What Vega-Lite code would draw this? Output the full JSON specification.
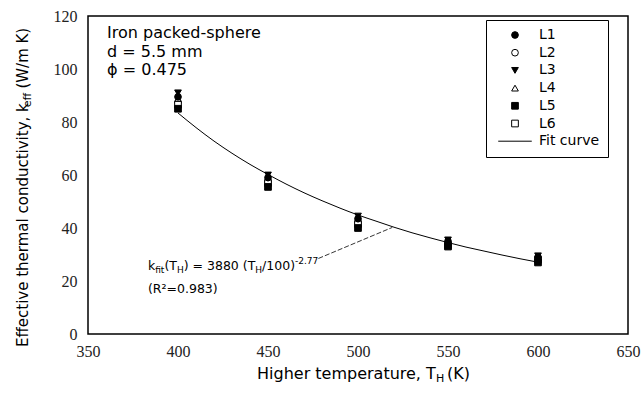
{
  "$schema": "https://vega.github.io/schema/vega-lite/v6.json",
  "width": 540,
  "height": 318,
  "autosize": {"type": "none"},
  "padding": {"left": 88, "top": 16, "right": 15, "bottom": 60},
  "config": {
    "font": "DejaVu Sans",
    "view": {"stroke": "black", "strokeWidth": 1.5},
    "axis": {
      "title": null,
      "domain": false,
      "ticks": false,
      "grid": true,
      "gridColor": "black",
      "gridOpacity": 1,
      "gridWidth": 1.5,
      "labelFont": "Liberation Serif",
      "labelFontSize": 16,
      "labelColor": "#222",
      "labelOverlap": false,
      "labelFlush": false
    }
  },
  "datasets": {
    "meas": [
      {"T": 400, "k": 87.5, "series": "L2"},
      {"T": 400, "k": 88.5, "series": "L4"},
      {"T": 400, "k": 86.5, "series": "L6"},
      {"T": 400, "k": 85, "series": "L5"},
      {"T": 400, "k": 89.5, "series": "L1"},
      {"T": 400, "k": 91, "series": "L3"},
      {"T": 450, "k": 57.5, "series": "L2"},
      {"T": 450, "k": 58.5, "series": "L4"},
      {"T": 450, "k": 57, "series": "L6"},
      {"T": 450, "k": 55.5, "series": "L5"},
      {"T": 450, "k": 59, "series": "L1"},
      {"T": 450, "k": 60, "series": "L3"},
      {"T": 500, "k": 42, "series": "L2"},
      {"T": 500, "k": 43, "series": "L4"},
      {"T": 500, "k": 41.5, "series": "L6"},
      {"T": 500, "k": 40, "series": "L5"},
      {"T": 500, "k": 43.5, "series": "L1"},
      {"T": 500, "k": 44.5, "series": "L3"},
      {"T": 550, "k": 34, "series": "L2"},
      {"T": 550, "k": 34.5, "series": "L4"},
      {"T": 550, "k": 33.5, "series": "L6"},
      {"T": 550, "k": 33, "series": "L5"},
      {"T": 550, "k": 35, "series": "L1"},
      {"T": 550, "k": 35.5, "series": "L3"},
      {"T": 600, "k": 28, "series": "L2"},
      {"T": 600, "k": 28.5, "series": "L4"},
      {"T": 600, "k": 28, "series": "L6"},
      {"T": 600, "k": 27, "series": "L5"},
      {"T": 600, "k": 29, "series": "L1"},
      {"T": 600, "k": 29.5, "series": "L3"}
    ],
    "fit": [
      {"T": 400, "k": 83.4}, {"T": 410, "k": 77.9}, {"T": 420, "k": 72.8},
      {"T": 430, "k": 68.2}, {"T": 440, "k": 64.0}, {"T": 450, "k": 60.2},
      {"T": 460, "k": 56.6}, {"T": 470, "k": 53.3}, {"T": 480, "k": 50.3},
      {"T": 490, "k": 47.5}, {"T": 500, "k": 44.9}, {"T": 510, "k": 42.6},
      {"T": 520, "k": 40.3}, {"T": 530, "k": 38.2}, {"T": 540, "k": 36.3},
      {"T": 550, "k": 34.5}, {"T": 560, "k": 32.8}, {"T": 570, "k": 31.3},
      {"T": 580, "k": 29.8}, {"T": 590, "k": 28.4}, {"T": 600, "k": 27.1}
    ],
    "pointer": [{"x": 478, "y": 28.5, "x2": 519, "y2": 40.2}],
    "annoMain": [
      {"t": "k", "x": 383.33, "y": 25.7},
      {"t": "(T", "x": 392.44, "y": 25.7},
      {"t": ") = 3880 (T", "x": 403.17, "y": 25.7},
      {"t": "/100)", "x": 446.72, "y": 25.7},
      {"t": "(R²=0.983)", "x": 383.33, "y": 17.0}
    ],
    "annoSub": [
      {"t": "fit", "x": 387.33, "y": 25.7},
      {"t": "H", "x": 399.39, "y": 25.7},
      {"t": "H", "x": 442.94, "y": 25.7}
    ],
    "annoSup": [{"t": "-2.77", "x": 465.0, "y": 25.7}],
    "info": [
      {"t": "Iron packed-sphere", "x": 360.6, "y": 113.6},
      {"t": "d = 5.5 mm", "x": 360.6, "y": 106.4},
      {"t": "ϕ = 0.475", "x": 360.6, "y": 99.6}
    ],
    "xTitle": [
      {"t": "Higher temperature, T", "x": 443.9, "y": -15.2},
      {"t": " (K)", "x": 549.5, "y": -15.2}
    ],
    "xTitleSub": [{"t": "H", "x": 543.3, "y": -15.2}],
    "yTitle": [
      {"t": "Effective thermal conductivity, k", "x": 313.9, "y": -4.9},
      {"t": " (W/m K)", "x": 313.9, "y": 92.6}
    ],
    "yTitleSub": [{"t": "eff", "x": 313.9, "y": 85.6}]
  },
  "resolve": {"axis": {"x": "independent", "y": "independent"}},
  "layer": [
    {
      "data": {"name": "fit"},
      "mark": {"type": "line", "color": "black", "strokeWidth": 1, "interpolate": "monotone"},
      "encoding": {
        "x": {"field": "T", "type": "quantitative", "scale": {"domain": [350, 650], "nice": false, "zero": false}, "axis": null},
        "y": {"field": "k", "type": "quantitative", "scale": {"domain": [0, 120], "nice": false, "zero": false}, "axis": null}
      }
    },
    {
      "data": {"name": "meas"},
      "mark": {"type": "point", "opacity": 1, "size": 45, "strokeWidth": 1},
      "encoding": {
        "x": {"field": "T", "type": "quantitative", "scale": {"domain": [350, 650], "nice": false, "zero": false},
          "axis": {"orient": "bottom", "values": [350, 400, 450, 500, 550, 600, 650], "labelPadding": 9,
            "gridDash": [9, 300, 9, 1000]}},
        "y": {"field": "k", "type": "quantitative", "scale": {"domain": [0, 120], "nice": false, "zero": false},
          "axis": {"orient": "left", "values": [0, 20, 40, 60, 80, 100, 120], "labelPadding": 11,
            "gridDash": [9, 522, 9, 1000]}},
        "shape": {"field": "series", "type": "nominal",
          "scale": {"domain": ["L1", "L2", "L3", "L4", "L5", "L6", "Fit curve"],
            "range": ["circle", "circle", "triangle-down", "triangle-up", "square", "square", "M-5,0L5,0"]},
          "legend": {"orient": "none", "legendX": 398, "legendY": 4, "title": null,
            "strokeColor": "black", "fillColor": "white", "padding": 8,
            "symbolSize": 45, "symbolStrokeWidth": 1,
            "labelFont": "DejaVu Sans", "labelFontSize": 14, "labelColor": "black",
            "rowPadding": 3.7, "symbolOffset": 14, "labelOffset": 17,
            "labelExpr": "datum.label == 'Fit curve' ? 'Fit curve\u2003' : datum.label"}},
        "fill": {"field": "series", "type": "nominal",
          "scale": {"domain": ["L1", "L2", "L3", "L4", "L5", "L6", "Fit curve"],
            "range": ["black", "white", "black", "white", "black", "white", "transparent"]}},
        "stroke": {"field": "series", "type": "nominal",
          "scale": {"domain": ["L1", "L2", "L3", "L4", "L5", "L6", "Fit curve"],
            "range": ["black", "black", "black", "black", "black", "black", "black"]}}
      }
    },
    {
      "data": {"name": "pointer"},
      "mark": {"type": "rule", "color": "black", "strokeWidth": 0.8, "strokeDash": [5, 2]},
      "encoding": {
        "x": {"field": "x", "type": "quantitative", "scale": {"domain": [350, 650], "nice": false, "zero": false},
          "axis": {"orient": "bottom", "labels": false, "gridDash": [5, 308, 5, 1000],
            "values": [360,370,380,390,410,420,430,440,460,470,480,490,510,520,530,540,560,570,580,590,610,620,630,640]}},
        "y": {"field": "y", "type": "quantitative", "scale": {"domain": [0, 120], "nice": false, "zero": false},
          "axis": {"orient": "left", "labels": false, "gridDash": [5, 530, 5, 1000],
            "values": [4,8,12,16,24,28,32,36,44,48,52,56,64,68,72,76,84,88,92,96,104,108,112,116]}},
        "x2": {"field": "x2"},
        "y2": {"field": "y2"}
      }
    },
    {
      "data": {"name": "annoMain"},
      "mark": {"type": "text", "align": "left", "baseline": "middle", "font": "DejaVu Sans", "fontSize": 12.5, "color": "black"},
      "encoding": {
        "x": {"field": "x", "type": "quantitative", "scale": {"domain": [350, 650], "nice": false, "zero": false}, "axis": null},
        "y": {"field": "y", "type": "quantitative", "scale": {"domain": [0, 120], "nice": false, "zero": false}, "axis": null},
        "text": {"field": "t"}
      }
    },
    {
      "data": {"name": "annoSub"},
      "mark": {"type": "text", "align": "left", "baseline": "middle", "font": "DejaVu Sans", "fontSize": 9, "dy": 4, "color": "black"},
      "encoding": {
        "x": {"field": "x", "type": "quantitative", "scale": {"domain": [350, 650], "nice": false, "zero": false}, "axis": null},
        "y": {"field": "y", "type": "quantitative", "scale": {"domain": [0, 120], "nice": false, "zero": false}, "axis": null},
        "text": {"field": "t"}
      }
    },
    {
      "data": {"name": "annoSup"},
      "mark": {"type": "text", "align": "left", "baseline": "middle", "font": "DejaVu Sans", "fontSize": 9, "dy": -5, "color": "black"},
      "encoding": {
        "x": {"field": "x", "type": "quantitative", "scale": {"domain": [350, 650], "nice": false, "zero": false}, "axis": null},
        "y": {"field": "y", "type": "quantitative", "scale": {"domain": [0, 120], "nice": false, "zero": false}, "axis": null},
        "text": {"field": "t"}
      }
    },
    {
      "data": {"name": "info"},
      "mark": {"type": "text", "align": "left", "baseline": "middle", "font": "DejaVu Sans", "fontSize": 16, "color": "black"},
      "encoding": {
        "x": {"field": "x", "type": "quantitative", "scale": {"domain": [350, 650], "nice": false, "zero": false}, "axis": null},
        "y": {"field": "y", "type": "quantitative", "scale": {"domain": [0, 120], "nice": false, "zero": false}, "axis": null},
        "text": {"field": "t"}
      }
    },
    {
      "data": {"name": "xTitle"},
      "mark": {"type": "text", "align": "left", "baseline": "middle", "font": "DejaVu Sans", "fontSize": 16, "color": "black"},
      "encoding": {
        "x": {"field": "x", "type": "quantitative", "scale": {"domain": [350, 650], "nice": false, "zero": false}, "axis": null},
        "y": {"field": "y", "type": "quantitative", "scale": {"domain": [0, 120], "nice": false, "zero": false}, "axis": null},
        "text": {"field": "t"}
      }
    },
    {
      "data": {"name": "xTitleSub"},
      "mark": {"type": "text", "align": "left", "baseline": "middle", "font": "DejaVu Sans", "fontSize": 11, "dy": 5, "color": "black"},
      "encoding": {
        "x": {"field": "x", "type": "quantitative", "scale": {"domain": [350, 650], "nice": false, "zero": false}, "axis": null},
        "y": {"field": "y", "type": "quantitative", "scale": {"domain": [0, 120], "nice": false, "zero": false}, "axis": null},
        "text": {"field": "t"}
      }
    },
    {
      "data": {"name": "yTitle"},
      "mark": {"type": "text", "align": "left", "baseline": "middle", "font": "DejaVu Sans", "fontSize": 15, "angle": 270, "color": "black"},
      "encoding": {
        "x": {"field": "x", "type": "quantitative", "scale": {"domain": [350, 650], "nice": false, "zero": false}, "axis": null},
        "y": {"field": "y", "type": "quantitative", "scale": {"domain": [0, 120], "nice": false, "zero": false}, "axis": null},
        "text": {"field": "t"}
      }
    },
    {
      "data": {"name": "yTitleSub"},
      "mark": {"type": "text", "align": "left", "baseline": "middle", "font": "DejaVu Sans", "fontSize": 11, "angle": 270, "dy": 5, "color": "black"},
      "encoding": {
        "x": {"field": "x", "type": "quantitative", "scale": {"domain": [350, 650], "nice": false, "zero": false}, "axis": null},
        "y": {"field": "y", "type": "quantitative", "scale": {"domain": [0, 120], "nice": false, "zero": false}, "axis": null},
        "text": {"field": "t"}
      }
    }
  ]
}
